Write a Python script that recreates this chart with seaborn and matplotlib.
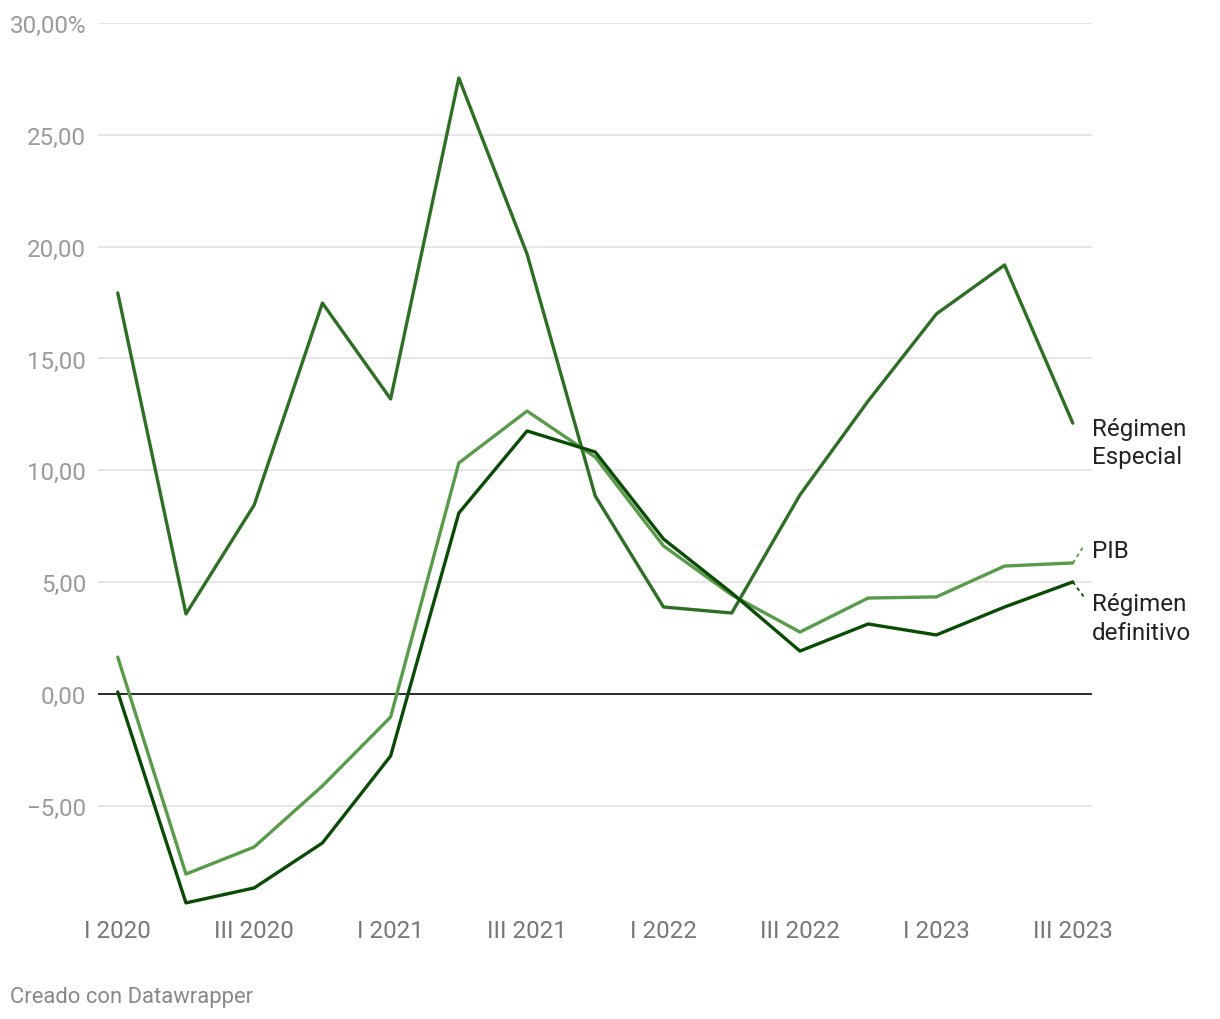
import numpy as np
import pandas as pd
import seaborn as sns
import matplotlib.pyplot as plt

# trimestres I 2020 .. III 2023
quarters = ["I 2020", "II 2020", "III 2020", "IV 2020",
            "I 2021", "II 2021", "III 2021", "IV 2021",
            "I 2022", "II 2022", "III 2022", "IV 2022",
            "I 2023", "II 2023", "III 2023"]

especial = [17.93, 3.58, 8.45, 17.48, 13.19, 27.54, 19.67, 8.85,
            3.89, 3.62, 8.90, 13.10, 16.99, 19.18, 12.11]
pib = [1.65, -8.05, -6.84, -4.11, -1.03, 10.33, 12.65, 10.59,
       6.62, 4.43, 2.77, 4.29, 4.34, 5.72, 5.86]
definitivo = [0.09, -9.34, -8.67, -6.66, -2.77, 8.09, 11.76, 10.82,
              6.93, 4.52, 1.92, 3.13, 2.64, 3.89, 5.01]

series_names = ["Régimen Especial", "PIB", "Régimen definitivo"]
colors = ["#2f6e25", "#5a9a4b", "#0b4a07"]

yticks = [-5, 0, 5, 10, 15, 20, 25, 30]
ytick_labels = ["\u22125,00", "0,00", "5,00", "10,00", "15,00", "20,00", "25,00", "30,00%"]
xtick_labels = ["I 2020", "III 2020", "I 2021", "III 2021", "I 2022", "III 2022", "I 2023", "III 2023"]

df = pd.DataFrame({
    "t": list(range(len(quarters))) * 3,
    "valor": especial + pib + definitivo,
    "serie": np.repeat(series_names, len(quarters)),
})

sns.set_style("white")
plt.rcParams["font.family"] = ["Roboto", "DejaVu Sans"]

fig = plt.figure(figsize=(12.2, 10.2), dpi=100)
ax = fig.add_axes([0.0803, 0.1103, 0.8147, 0.8662])

# rejilla
for v in yticks:
    if v == 0:
        ax.axhline(v, color="#1a1a1a", lw=1.3, zorder=1)
    else:
        ax.axhline(v, color="#e2e2e2", lw=1.2, zorder=0)

sns.lineplot(data=df, x="t", y="valor", hue="serie", hue_order=series_names,
             palette=colors, linewidth=2.4, legend=False, ax=ax, zorder=3)

ax.set_xlim(-0.29, 14.28)
ax.set_ylim(-9.5, 30)
ax.set_yticks(yticks)
ax.set_yticklabels(ytick_labels, fontsize=17.4, color="#9a9a9a")
ax.set_xticks([quarters.index(q) for q in xtick_labels])
ax.set_xticklabels(xtick_labels, fontsize=17.4, color="#777777")
ax.tick_params(axis="y", length=0, pad=8.6)
ax.tick_params(axis="x", length=0, pad=9)
ax.set_xlabel("")
ax.set_ylabel("")
for s in ax.spines.values():
    s.set_visible(False)

# etiquetas de las series
last = len(quarters) - 1
ax.text(last + 0.28, 11.25, "Régimen\nEspecial", fontsize=17.4, color="#222222",
        va="center", ha="left", linespacing=1.3)
ax.text(last + 0.28, 6.4, "PIB", fontsize=17.4, color="#222222", va="center", ha="left")
ax.text(last + 0.28, 3.4, "Régimen\ndefinitivo", fontsize=17.4, color="#222222",
        va="center", ha="left", linespacing=1.3)
ax.plot([last, last + 0.17], [pib[-1], pib[-1] + 0.8], ls=(0, (2, 2)),
        color=colors[1], lw=1.3, clip_on=False)
ax.plot([last, last + 0.17], [definitivo[-1], definitivo[-1] - 0.7], ls=(0, (2, 2)),
        color=colors[2], lw=1.3, clip_on=False)

fig.text(10 / 1220, 1 - 998 / 1020, "Creado con Datawrapper", fontsize=15.8,
         color="#888888", va="center", ha="left")

fig.savefig("out.png", dpi=100)
